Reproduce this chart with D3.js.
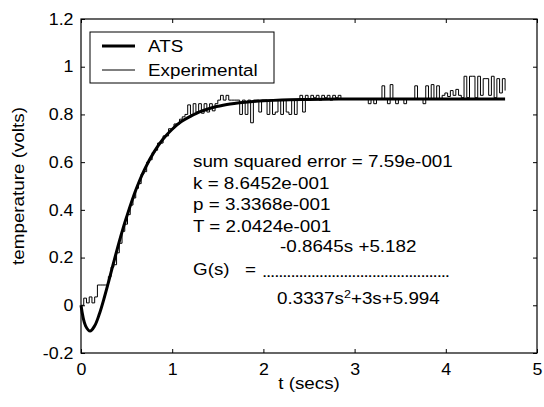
<!DOCTYPE html>
<html>
<head>
<meta charset="utf-8">
<script src="https://cdn.jsdelivr.net/npm/d3@7"></script>
<style>
body { margin: 0; background: #fff; }
text { font-family: "Liberation Sans", Arial, Helvetica, sans-serif; fill: #000; }
</style>
</head>
<body>
<svg width="544" height="407"></svg>
<script>
// ATS model response
const atsT = [0, 0.05, 0.1, 0.15, 0.2, 0.25, 0.3, 0.35, 0.4, 0.45, 0.5, 0.6, 0.7, 0.8, 0.9, 1.0,
              1.1, 1.2, 1.3, 1.4, 1.5, 1.6, 1.8, 2.0, 2.2, 2.5, 3.0, 3.5, 4.0, 4.65];
const atsV = [0, -0.086, -0.108, -0.086, -0.038, 0.025, 0.095, 0.168, 0.24, 0.308, 0.37, 0.482, 0.572, 0.642, 0.697, 0.738,
              0.77, 0.792, 0.811, 0.824, 0.834, 0.842, 0.851, 0.857, 0.861, 0.863, 0.865, 0.865, 0.865, 0.865];

const expDt = 0.03;
const expV = [
  0.00, 0.03, 0.01, 0.035, 0.01, 0.035, 0.085, 0.085, 0.085, 0.085,
  0.12, 0.16, 0.17, 0.22, 0.26, 0.31, 0.34, 0.38, 0.42, 0.45,
  0.49, 0.51, 0.55, 0.56, 0.60, 0.61, 0.64, 0.65, 0.68, 0.68,
  0.71, 0.71, 0.74, 0.74, 0.76, 0.76, 0.78, 0.79, 0.80, 0.84,
  0.80, 0.845, 0.81, 0.845, 0.805, 0.845, 0.81, 0.845, 0.815, 0.845,
  0.86, 0.88, 0.86, 0.88, 0.86, 0.86, 0.86, 0.86, 0.80, 0.86,
  0.80, 0.86, 0.765, 0.86, 0.86, 0.81, 0.86, 0.86, 0.80, 0.86,
  0.80, 0.81, 0.86, 0.80, 0.86, 0.81, 0.80, 0.86, 0.80, 0.86,
  0.88, 0.81, 0.88, 0.86, 0.88, 0.87, 0.88, 0.86, 0.88, 0.87,
  0.88, 0.86, 0.88, 0.87, 0.88, 0.865, 0.865, 0.865, 0.865, 0.865,
  0.865, 0.865, 0.865, 0.865, 0.865, 0.845, 0.865, 0.845, 0.865, 0.865,
  0.92, 0.865, 0.845, 0.925, 0.865, 0.845, 0.865, 0.865, 0.845, 0.865,
  0.865, 0.865, 0.92, 0.865, 0.865, 0.845, 0.92, 0.865, 0.925, 0.865,
  0.92, 0.865, 0.88, 0.89, 0.875, 0.90, 0.88, 0.905, 0.88, 0.87,
  0.96, 0.87, 0.96, 0.96, 0.87, 0.96, 0.88, 0.95, 0.95, 0.88,
  0.96, 0.87, 0.95, 0.89, 0.95, 0.90
];

const xTicks = [0, 1, 2, 3, 4, 5];
const yTicks = [-0.2, 0, 0.2, 0.4, 0.6, 0.8, 1, 1.2];
const yTickText = ["-0.2", "0", "0.2", "0.4", "0.6", "0.8", "1", "1.2"];
const legendNames = ["ATS", "Experimental"];
const fitLines = ["sum squared error = 7.59e-001", "k = 8.6452e-001", "p = 3.3368e-001", "T = 2.0424e-001"];
const numText = "-0.8645s +5.182";
const denParts = ["0.3337s", "2", "+3s+5.994"];

const svg = d3.select("svg");
const FS = 16.5, SX = 1.14;   // scanned text is a little wide

const x = d3.scaleLinear().domain([0, 5]).range([81, 537]);
const y = d3.scaleLinear().domain([-0.2, 1.2]).range([353, 19]);

function label(px, py, str, anchor) {
  return svg.append("text")
    .attr("transform", `translate(${px},${py}) scale(${SX},1)`)
    .attr("text-anchor", anchor || "start")
    .attr("font-size", FS)
    .text(str);
}

// axes, ticks pointing inward like matlab
const gx = svg.append("g").attr("transform", `translate(0,${y(-0.2)})`)
  .call(d3.axisBottom(x).tickValues(xTicks).tickSize(-4).tickFormat(d3.format("d")));
gx.select(".domain").remove();
gx.attr("font-size", FS).attr("font-family", null);
gx.selectAll("text").attr("y", 22).attr("dy", null).attr("transform", "scale(1.08,1)");

const gy = svg.append("g").attr("transform", `translate(${x(0)},0)`)
  .call(d3.axisLeft(y).tickValues(yTicks).tickSize(-4).tickFormat((d, i) => yTickText[i]));
gy.select(".domain").remove();
gy.attr("font-size", FS).attr("font-family", null);
gy.selectAll("text").attr("x", -7.5 / 1.08).attr("transform", "scale(1.08,1)");

const gt = svg.append("g").attr("transform", `translate(0,${y(1.2)})`)
  .call(d3.axisTop(x).tickValues(xTicks).tickSize(-4).tickFormat(""));
gt.select(".domain").remove();

const gr = svg.append("g").attr("transform", `translate(${x(5)},0)`)
  .call(d3.axisRight(y).tickValues(yTicks).tickSize(-4).tickFormat(""));
gr.select(".domain").remove();

svg.append("rect")
  .attr("x", x(0)).attr("y", y(1.2))
  .attr("width", x(5) - x(0)).attr("height", y(-0.2) - y(1.2))
  .attr("fill", "none").attr("stroke", "#000").attr("stroke-width", 1.2);

// curves
const atsData = atsT.map((t, i) => [t, atsV[i]]);
const expData = expV.map((v, i) => [i * expDt, v]);

svg.append("path")
  .datum(atsData)
  .attr("fill", "none").attr("stroke", "#000").attr("stroke-width", 3)
  .attr("d", d3.line().x(d => x(d[0])).y(d => y(d[1])).curve(d3.curveCatmullRom));

svg.append("path")
  .datum(expData)
  .attr("fill", "none").attr("stroke", "#000").attr("stroke-width", 1)
  .attr("d", d3.line().x(d => x(d[0])).y(d => y(d[1])).curve(d3.curveStepAfter));

// legend
svg.append("rect").attr("x", 90).attr("y", 32).attr("width", 184).attr("height", 51)
  .attr("fill", "#fff").attr("stroke", "#000").attr("stroke-width", 1);
legendNames.forEach((name, i) => {
  const ly = 46 + i * 24;
  svg.append("line").attr("x1", 102).attr("x2", 135).attr("y1", ly).attr("y2", ly)
    .attr("stroke", "#000").attr("stroke-width", i === 0 ? 3 : 1);
  label(148, ly + 6, name);
});

// fit results
fitLines.forEach((s, i) => label(193, 167 + i * 21.5, s));
label(280, 252, numText);
label(193, 275, "G(s)");
label(245, 275, "=");
svg.append("text")
  .attr("transform", `translate(262,277) scale(${SX},1)`)
  .attr("font-size", FS)
  .attr("textLength", 188 / SX).attr("lengthAdjust", "spacing")
  .text(".".repeat(46));
const den = label(277, 304, "");
den.append("tspan").text(denParts[0]);
den.append("tspan").attr("dy", -6).attr("font-size", 11).text(denParts[1]);
den.append("tspan").attr("dy", 6).text(denParts[2]);

// axis titles
label(309, 389, "t (secs)", "middle");
svg.append("text")
  .attr("transform", `translate(24,186) rotate(-90) scale(${SX},1)`)
  .attr("text-anchor", "middle").attr("font-size", FS)
  .text("temperature (volts)");
</script>
</body>
</html>
